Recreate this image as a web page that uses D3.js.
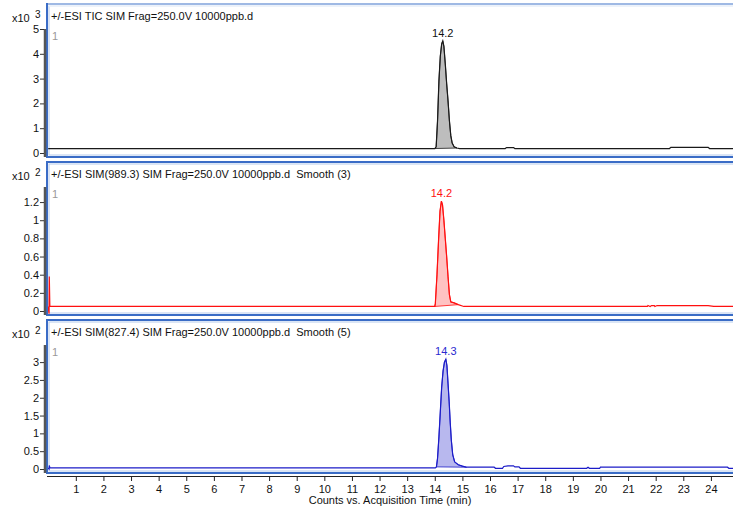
<!DOCTYPE html>
<html lang="en">
<head>
<meta charset="utf-8">
<title>Chromatograms</title>
<script src="https://cdn.jsdelivr.net/npm/d3@7"></script>
<style>
  body { margin: 0; background: #fff; }
  svg text { font-family: "Liberation Sans", Arial, sans-serif; }
</style>
</head>
<body>
<script>
// ---- data ----
var timeTicks = d3.range(1, 25);

var titles = [
  "+/-ESI TIC SIM Frag=250.0V 10000ppb.d",
  "+/-ESI SIM(989.3) SIM Frag=250.0V 10000ppb.d  Smooth (3)",
  "+/-ESI SIM(827.4) SIM Frag=250.0V 10000ppb.d  Smooth (5)"
];
var exponents = ["3", "2", "2"];
var peakLabels = ["14.2", "14.2", "14.3"];
var peakRanges = [[14.0, 14.8], [14.0, 14.85], [14.04, 15.15]];

var yTicks1 = [0, 1, 2, 3, 4, 5];
var yTicks2 = [0, 0.2, 0.4, 0.6, 0.8, 1, 1.2];
var yTicks3 = [0, 0.5, 1, 1.5, 2, 2.5, 3];

// [time (min), counts]
var ticTrace = [
  [0, 0.18], [14.0, 0.18], [14.05, 0.25], [14.1, 1.3], [14.15, 2.9], [14.2, 3.9],
  [14.25, 4.4], [14.29, 4.52], [14.33, 4.3], [14.38, 3.6], [14.43, 2.8], [14.48, 2.1],
  [14.53, 1.3], [14.58, 0.7], [14.63, 0.4], [14.7, 0.25], [14.8, 0.2], [14.9, 0.18],
  [16.55, 0.18], [16.6, 0.22], [16.85, 0.22], [16.9, 0.18], [22.5, 0.18], [22.55, 0.23],
  [23.9, 0.23], [23.95, 0.18], [24.84, 0.18]
];
var sim989Trace = [
  [0.0, 0.05], [0.03, -0.03], [0.04, 0.38], [0.06, 0.05], [14.0, 0.05], [14.02, 0.08],
  [14.08, 0.4], [14.14, 0.8], [14.19, 1.1], [14.24, 1.21], [14.28, 1.17], [14.33, 1.0],
  [14.38, 0.8], [14.43, 0.6], [14.48, 0.38], [14.53, 0.18], [14.58, 0.1], [14.7, 0.09],
  [14.85, 0.07], [15.05, 0.05], [21.7, 0.05], [21.72, 0.06], [21.8, 0.05], [21.85, 0.06],
  [21.95, 0.06], [21.97, 0.05], [22.05, 0.06], [23.9, 0.06], [24.1, 0.05], [24.84, 0.05]
];
var sim827Trace = [
  [0.0, 0.03], [0.03, 0.0], [0.04, 0.1], [0.06, 0.03], [14.02, 0.03], [14.06, 0.06],
  [14.1, 0.3], [14.15, 0.9], [14.2, 1.6], [14.25, 2.3], [14.3, 2.75], [14.35, 3.0],
  [14.4, 3.08], [14.44, 2.9], [14.48, 2.4], [14.52, 1.9], [14.56, 1.3], [14.6, 0.8],
  [14.65, 0.4], [14.72, 0.2], [14.85, 0.12], [15.0, 0.08], [15.15, 0.05], [16.15, 0.05],
  [16.2, 0.02], [16.45, 0.02], [16.5, 0.07], [16.65, 0.09], [16.85, 0.09], [16.9, 0.06],
  [17.05, 0.06], [17.1, 0.02], [19.5, 0.02], [19.55, 0.05], [19.6, 0.02], [19.97, 0.02],
  [20.0, 0.05], [24.6, 0.05], [24.65, 0.02], [24.84, 0.02]
];

var traces = [ticTrace, sim989Trace, sim827Trace];
var tickSets = [yTicks1, yTicks2, yTicks3];
var yTops = [5.0, 1.366, 3.48];
var lineColors = ["#1a1a1a", "#ff1010", "#1c1cc8"];
var fillColors = ["#bdbdbd", "#ffc2c2", "#b8b8ee"];
var labelColors = ["#111", "#ff1010", "#2a2ad0"];

// ---- layout ----
var w = 733, h = 510;
var panelTops = [4, 162, 320];
var panelH = 153;
var left = 47;

var svg = d3.select("body").append("svg")
  .attr("width", w).attr("height", h);

var x = d3.scaleLinear().domain([0, 24.8]).range([48.2, 733]);

panelTops.forEach(function(top, p) {
  var y = d3.scaleLinear().domain([0, yTops[p]]).range([top + 149, top + 25]);
  var data = traces[p];

  // panel frame
  svg.append("rect")
    .attr("x", left).attr("y", top)
    .attr("width", w + 10 - left).attr("height", panelH)
    .attr("fill", "none").attr("stroke", "#3a6cc6").attr("stroke-width", 2);
  svg.append("rect")
    .attr("x", left + 2).attr("y", top + 2)
    .attr("width", w + 10 - left).attr("height", panelH - 4)
    .attr("fill", "none").attr("stroke", "#b6cbec").attr("stroke-width", 1);
  if (p === 0) {
    // first panel has a lighter top edge
    svg.append("line")
      .attr("x1", left + 1).attr("x2", w)
      .attr("y1", top).attr("y2", top)
      .attr("stroke", "#9fb9e4").attr("stroke-width", 2);
    svg.append("line")
      .attr("x1", left + 2).attr("x2", w)
      .attr("y1", top + 2).attr("y2", top + 2)
      .attr("stroke", "#fff").attr("stroke-width", 1);
  }

  // clip for the traces
  svg.append("clipPath").attr("id", "clip" + p)
    .append("rect")
    .attr("x", left + 1).attr("y", top + 2)
    .attr("width", w - left).attr("height", panelH - 3);

  var g = svg.append("g").attr("clip-path", "url(#clip" + p + ")");

  // integrated peak fill
  var pr = peakRanges[p];
  var peakPts = data.filter(function(d) { return d[0] >= pr[0] && d[0] <= pr[1]; });
  var line = d3.line()
    .x(function(d) { return x(d[0]); })
    .y(function(d) { return y(d[1]); });
  g.append("path")
    .attr("d", line(peakPts) + "Z")
    .attr("fill", fillColors[p])
    .attr("stroke", lineColors[p]).attr("stroke-width", 0.8);

  g.append("path")
    .datum(data)
    .attr("d", line)
    .attr("fill", "none")
    .attr("stroke", lineColors[p])
    .attr("stroke-width", 1.2);

  // peak label
  var apex = d3.greatest(peakPts, function(d) { return d[1]; });
  svg.append("text")
    .attr("x", x(apex[0]))
    .attr("y", y(apex[1]) - 4)
    .attr("text-anchor", "middle")
    .attr("font-size", 11)
    .attr("fill", labelColors[p])
    .text(peakLabels[p]);

  // title
  svg.append("text")
    .attr("x", 51).attr("y", top + 16)
    .attr("font-size", 11)
    .attr("fill", "#111")
    .style("white-space", "pre")
    .text(titles[p]);

  svg.append("text")
    .attr("x", 52).attr("y", top + 36)
    .attr("font-size", 11)
    .attr("fill", "#999")
    .text("1");

  // multiplier
  svg.append("text")
    .attr("x", 12).attr("y", top + 18)
    .attr("font-size", 11).attr("fill", "#111")
    .text("x10");
  svg.append("text")
    .attr("x", 35).attr("y", top + 14)
    .attr("font-size", 10).attr("fill", "#111")
    .text(exponents[p]);

  // y axis
  svg.append("line")
    .attr("x1", 45).attr("x2", 45)
    .attr("y1", top + 25).attr("y2", top + 153)
    .attr("stroke", "#555").attr("stroke-width", 2.5);

  var yAxis = d3.axisLeft(y)
    .tickValues(tickSets[p])
    .tickSize(4)
    .tickFormat(d3.format("~g"));
  var ga = svg.append("g")
    .attr("transform", "translate(44,0)")
    .call(yAxis);
  ga.select(".domain").remove();
  ga.selectAll("text")
    .attr("font-size", 11)
    .attr("font-family", "Liberation Sans, Arial, sans-serif")
    .attr("fill", "#111")
    .attr("x", -5);
  ga.selectAll("line").attr("stroke", "#333");
});

// x axis
var axisY = 476;
var xAxis = d3.axisBottom(x)
  .tickValues(timeTicks)
  .tickSize(5)
  .tickFormat(d3.format("d"));
var gx = svg.append("g")
  .attr("transform", "translate(0," + axisY + ")")
  .call(xAxis);
gx.select(".domain").attr("stroke", "#222").attr("d", "M47,0.5H733");
gx.selectAll("line").attr("stroke", "#222");
gx.selectAll("text")
  .attr("font-size", 11)
  .attr("font-family", "Liberation Sans, Arial, sans-serif")
  .attr("fill", "#111")
  .attr("y", 9);

svg.append("text")
  .attr("x", 390).attr("y", 504)
  .attr("text-anchor", "middle")
  .attr("font-size", 11)
  .attr("fill", "#111")
  .text("Counts vs. Acquisition Time (min)");
</script>
</body>
</html>
